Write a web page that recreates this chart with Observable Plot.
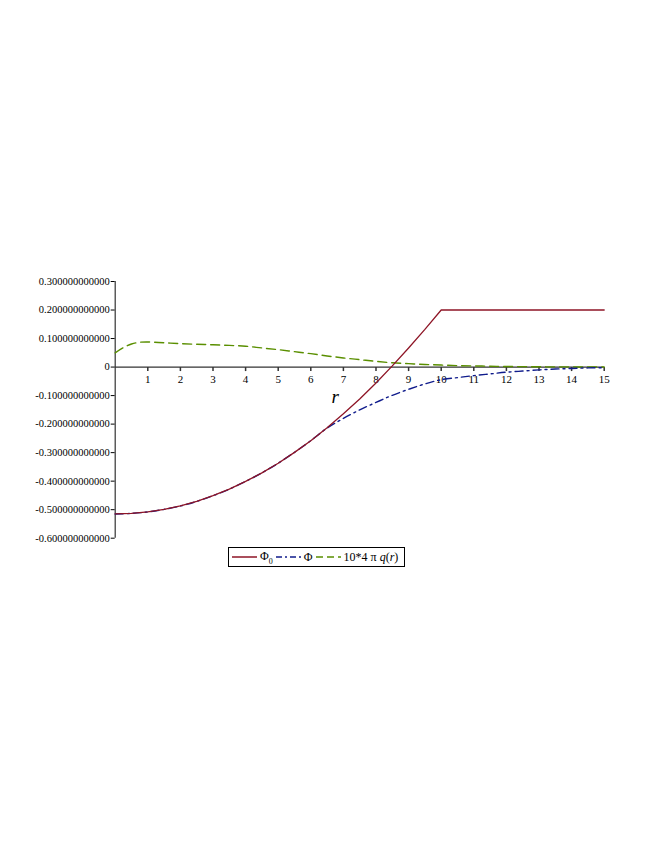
<!DOCTYPE html>
<html>
<head>
<meta charset="utf-8">
<script src="https://cdn.jsdelivr.net/npm/d3@7"></script>
<script src="https://cdn.jsdelivr.net/npm/@observablehq/plot@0.6"></script>
<style>
  body { margin: 0; background: #fff; }
  #wrap { position: relative; width: 654px; height: 846px; }
  #legend {
    position: absolute; left: 228px; top: 547px; width: 177px; height: 20px;
    border: 1px solid #000; box-sizing: border-box;
    font-family: "Liberation Serif", "Times New Roman", serif; font-size: 12px;
    display: flex; align-items: center; white-space: nowrap; padding-left: 3px;
  }
  #legend svg { display: inline-block; flex: none; }
  #legend span.t { margin: 0 3px 0 3px; line-height: 12px; }
</style>
</head>
<body>
<div id="wrap"></div>
<script>
// ---- data ----
const rGrid = [0,0.5,1,1.5,2,2.5,3,3.5,4,4.5,5,5.5,6,6.5,7,7.5,8,8.5,9,9.5,10,10.5,11,11.5,12,12.5,13,13.5,14,14.5,15];
const phi0 = [-0.515,-0.513,-0.508,-0.499,-0.487,-0.471,-0.451,-0.428,-0.401,-0.371,-0.337,-0.299,-0.258,-0.213,-0.164,-0.112,-0.056,0.004,0.067,0.132,0.200,0.2,0.2,0.2,0.2,0.2,0.2,0.2,0.2,0.2,0.2];
const phi  = [-0.515,-0.513,-0.508,-0.499,-0.487,-0.471,-0.451,-0.428,-0.401,-0.371,-0.337,-0.299,-0.258,-0.214,-0.180,-0.150,-0.124,-0.099,-0.078,-0.059,-0.044,-0.037,-0.030,-0.024,-0.018,-0.014,-0.010,-0.007,-0.005,-0.003,-0.002];
const rGreen = [0,0.25,0.5,0.75,1,1.5,2,2.5,3,3.5,4,4.5,5,5.5,6,6.5,7,7.5,8,8.5,9,9.5,10,10.5,11,11.5,12,12.5,13,13.5,14,14.5,15];
const rho = [0.050,0.068,0.081,0.087,0.088,0.085,0.082,0.080,0.078,0.076,0.073,0.067,0.061,0.054,0.047,0.039,0.032,0.026,0.020,0.015,0.012,0.009,0.007,0.005,0.004,0.003,0.002,0.0015,0.001,0.0007,0.0005,0.0003,0.0002];
const xTicks = [1,2,3,4,5,6,7,8,9,10,11,12,13,14,15];
const yTicks = [-0.6,-0.5,-0.4,-0.3,-0.2,-0.1,0,0.1,0.2,0.3];
const axisName = "r";

const red = "#8e1526", blue = "#101c8c", green = "#5a8f00";
const serif = '"Liberation Serif", "Times New Roman", serif';

const redData = rGrid.map((r, i) => ({r, v: phi0[i]}));
const blueData = rGrid.map((r, i) => ({r, v: phi[i]}));
const greenData = rGreen.map((r, i) => ({r, v: rho[i]}));

const fmt = d => Math.abs(d) < 1e-9 ? "0" : (d < 0 ? "-" : "") + Math.abs(d).toFixed(12);

const tickDown = { draw(ctx) { ctx.moveTo(0, 0); ctx.lineTo(0, 4); } };

const chart = Plot.plot({
  width: 654,
  height: 545,
  marginTop: 281,
  marginBottom: 7.3,
  marginLeft: 114.7,
  marginRight: 50.3,
  style: { fontFamily: serif, background: "#fff", color: "#000" },
  x: { domain: [0, 15], axis: null },
  y: { domain: [-0.6, 0.3], axis: null },
  marks: [
    Plot.axisY(yTicks, { tickSize: 4, tickPadding: 1.5, tickFormat: fmt, fontSize: 10.5, fontFamily: serif, label: null }),
    Plot.ruleX([0], { y1: -0.6, y2: 0.3, stroke: "#333", strokeWidth: 1.2 }),
    Plot.ruleY([0], { x1: 0, x2: 15, stroke: "#333", strokeWidth: 1.2 }),
    Plot.dot(xTicks, { x: d => d, y: 0, symbol: tickDown, stroke: "#333", r: 3 }),
    Plot.text(xTicks, { x: d => d, y: 0, dy: 12, text: d => String(d), fontSize: 11, fontFamily: serif }),
    Plot.text([axisName], { x: 6.75, y: 0, dy: 30, text: d => d, fontSize: 19, fontStyle: "italic", fontFamily: serif }),
    Plot.line(greenData, { x: "r", y: "v", stroke: green, strokeWidth: 1.4, strokeDasharray: "9,5", curve: "catmull-rom" }),
    Plot.line(blueData, { x: "r", y: "v", stroke: blue, strokeWidth: 1.4, strokeDasharray: "8,4,2,4", curve: "catmull-rom" }),
    Plot.line(redData, { x: "r", y: "v", stroke: red, strokeWidth: 1.3, curve: "linear" })
  ]
});

const wrap = document.getElementById("wrap");
wrap.appendChild(chart);

const legend = document.createElement("div");
legend.id = "legend";
function swatch(color, dash) {
  return `<svg width="25" height="6"><line x1="0" y1="3" x2="25" y2="3" stroke="${color}" stroke-width="1.5" ${dash ? `stroke-dasharray="${dash}"` : ""}/></svg>`;
}
legend.innerHTML =
  swatch(red, "") + `<span class="t">Φ<span style="font-size:8px;position:relative;top:4px">0</span></span>` +
  swatch(blue, "6,3,2,3") + `<span class="t">Φ</span>` +
  swatch(green, "7,4") + `<span class="t">10*4 π <i>q</i>(<i>r</i>)</span>`;
wrap.appendChild(legend);
</script>
</body>
</html>
